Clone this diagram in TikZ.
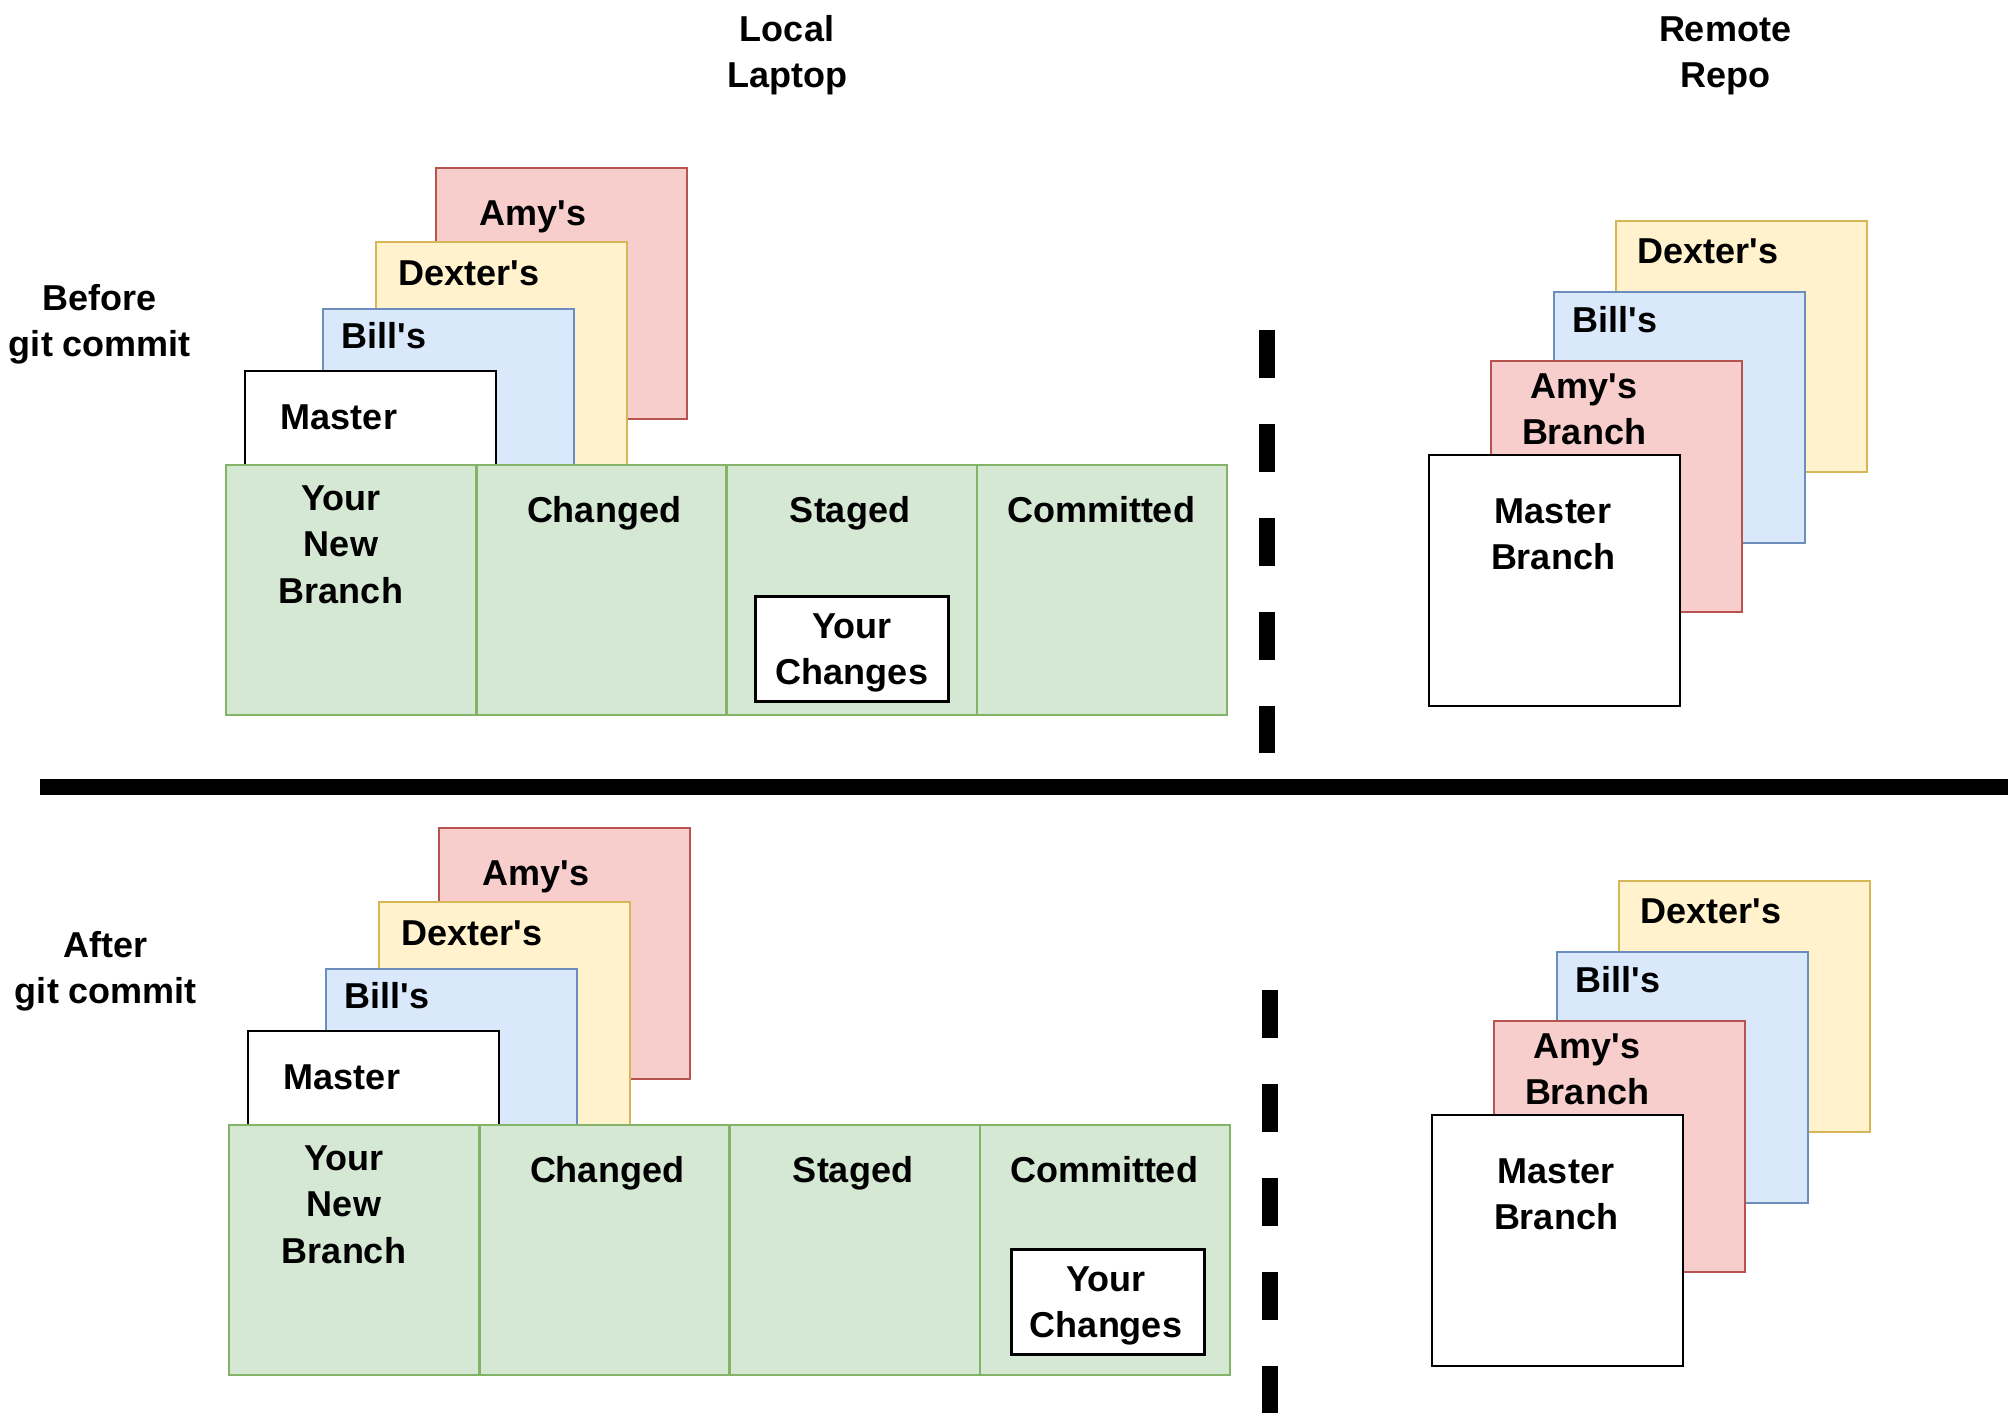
\documentclass[tikz,border=0pt]{standalone}
\usepackage{fontspec}
\setmainfont{Liberation Sans}
\definecolor{rfill}{HTML}{F8CECC}
\definecolor{rdraw}{HTML}{B85450}
\definecolor{yfill}{HTML}{FFF2CC}
\definecolor{ydraw}{HTML}{D6B656}
\definecolor{bfill}{HTML}{DAE8FC}
\definecolor{bdraw}{HTML}{6C8EBF}
\definecolor{gfill}{HTML}{D5E8D4}
\definecolor{gdraw}{HTML}{82B366}
\newcommand{\ap}{\textquotesingle}
\newcommand{\gitpanel}[3]{%
\begin{scope}[shift={(#2,#3)}]
  % local branches stack
  \node[redbox] (lamy#1) at (436,168) {};
  \node[yelbox, minimum height=223pt] (ldex#1) at (376,242) {};
  \node[bluebox, minimum height=156pt] (lbill#1) at (323,309) {};
  \node[whitebox, minimum height=94pt] (lmas#1) at (245,371) {};
  \node[txt] (tlamy#1) at (533,225) {Amy\ap s};
  \node[txt] (tldex#1) at (469,285) {Dexter\ap s};
  \node[txt] (tlbill#1) at (384,348) {Bill\ap s};
  \node[txt] (tlmas#1) at (339,429) {Master};
  % green row
  \node[cell] (cnew#1) at (226,465) {};
  \node[cell] (cchg#1) at (cnew#1.north east) {};
  \node[cell] (cstg#1) at (cchg#1.north east) {};
  \node[cell] (ccom#1) at (cstg#1.north east) {};
  \node[txt] (tnew#1) at (341,603) {Your\\New\\Branch};
  \node[txt] (tchg#1) at (604,522) {Changed};
  \node[txt] (tstg#1) at (850,522) {Staged};
  \node[txt] (tcom#1) at (1101,522) {Committed};
  % remote stack
  \node[yelbox] (rdex#1) at (1616,221) {};
  \node[bluebox] (rbill#1) at (1554,292) {};
  \node[redbox] (ramy#1) at (1491,361) {};
  \node[whitebox] (rmas#1) at (1429,455) {};
  \node[txt] (trdex#1) at (1708,263) {Dexter\ap s};
  \node[txt] (trbill#1) at (1615,332) {Bill\ap s};
  \node[txt] (tramy#1) at (1584,444.5) {Amy\ap s\\Branch};
  \node[txt] (trmas#1) at (1553,569.5) {Master\\Branch};
  % dashed separator
  \coordinate (dtop#1) at (1267,330);
  \coordinate (dbot#1) at (1267,753);
  \draw[dashline] (dtop#1) -- (dbot#1);
\end{scope}}
\begin{document}
\begin{tikzpicture}[x=1pt,y=-1pt,
  box/.style={draw, line width=2.5pt, minimum width=251pt, minimum height=251pt,
    anchor=north west, inner sep=0pt, outer sep=0pt},
  redbox/.style={box, fill=rfill, draw=rdraw},
  yelbox/.style={box, fill=yfill, draw=ydraw},
  bluebox/.style={box, fill=bfill, draw=bdraw},
  whitebox/.style={box, fill=white, draw=black},
  cell/.style={draw=gdraw, fill=gfill, line width=2.5pt, minimum width=250.25pt,
    minimum height=250pt, anchor=north west, inner sep=0pt, outer sep=0pt},
  ycbox/.style={draw=black, fill=white, line width=3pt, minimum width=193pt,
    minimum height=105pt, anchor=north west, inner sep=0pt, outer sep=0pt},
  txt/.style={font=\fontsize{36}{46.5}\selectfont\bfseries, align=center,
    inner sep=0pt, anchor=base, text=black},
  dashline/.style={line width=16pt, dash pattern=on 48pt off 46pt},
  sepline/.style={line width=16pt}
]
\fill[white] (0,0) rectangle (2016,1416);
\useasboundingbox (0,0) rectangle (2016,1416);

\node[txt] (local) at (787,87.5) {Local\\Laptop};
\node[txt] (remote) at (1725,87.5) {Remote\\Repo};
\node[txt] (before) at (100,356.5) {Before\\git commit};
\node[txt] (after) at (106,1003.5) {After\\git commit};

\gitpanel{A}{0}{0}
\gitpanel{B}{3}{660}

\node[ycbox] (ycA) at (755,596) {};
\node[txt] (tycA) at (852,684.5) {Your\\Changes};
\node[ycbox] (ycB) at (1011,1249) {};
\node[txt] (tycB) at (1106,1337.5) {Your\\Changes};

\coordinate (hl) at (40,787);
\coordinate (hr) at (2008,787);
\draw[sepline] (hl) -- (hr);
\end{tikzpicture}
\end{document}
